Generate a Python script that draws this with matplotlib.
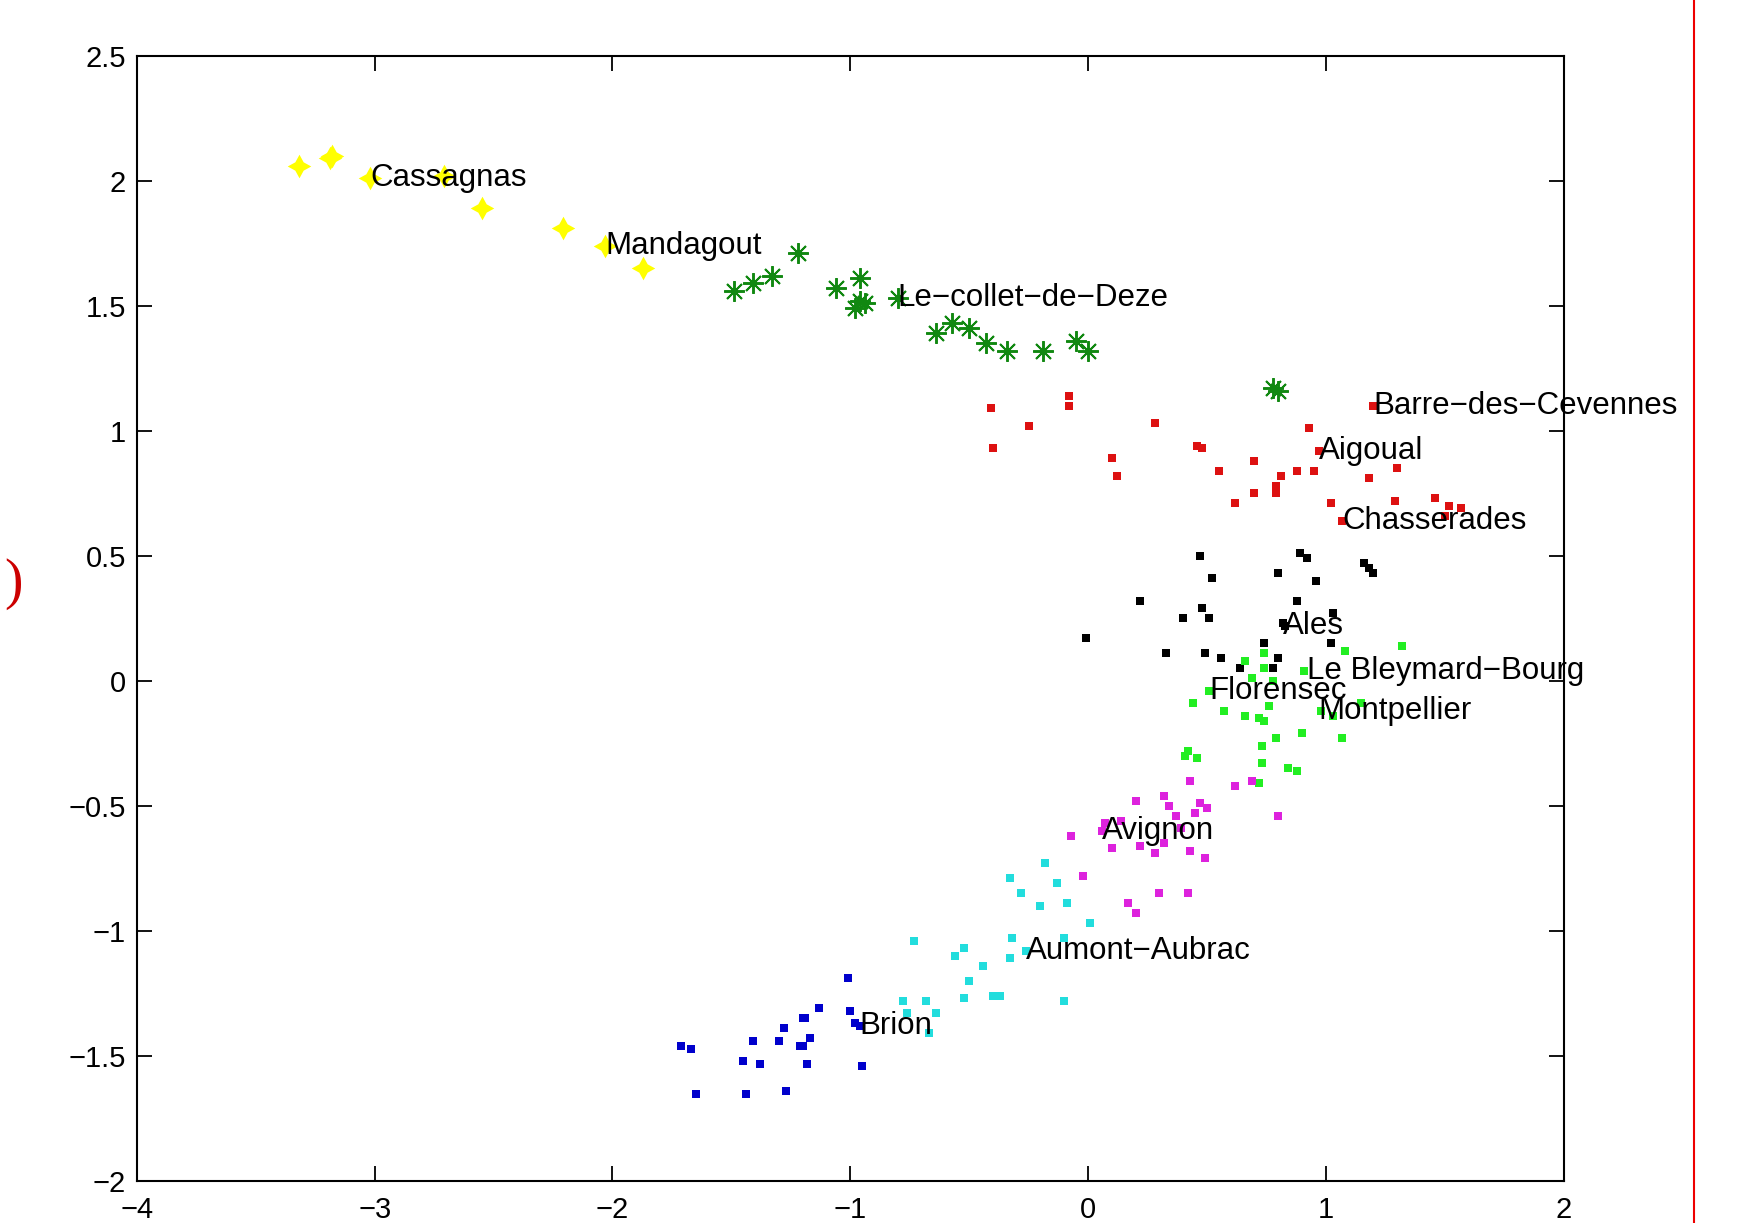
import matplotlib
matplotlib.use("Agg")
import matplotlib.pyplot as plt
from matplotlib.lines import Line2D

plt.rcParams["font.family"] = ["Liberation Sans", "DejaVu Sans"]

# --- point clouds, one per town group ---
yellow_x = [-3.32, -3.19, -3.18, -3.02, -2.71, -2.55, -2.21, -2.03, -1.87]
yellow_y = [2.06, 2.09, 2.10, 2.01, 2.02, 1.89, 1.81, 1.74, 1.65]

dgreen_x = [-1.49, -1.41, -1.33, -1.22, -1.06, -0.96, -0.96, -0.98, -0.94, -0.80,
            -0.64, -0.57, -0.50, -0.43, -0.34, -0.19, -0.05, 0.00, 0.78, 0.80]
dgreen_y = [1.56, 1.59, 1.62, 1.71, 1.57, 1.61, 1.52, 1.49, 1.51, 1.53,
            1.39, 1.43, 1.41, 1.35, 1.32, 1.32, 1.36, 1.32, 1.17, 1.16]

red_x = [-0.41, -0.08, -0.08, -0.25, -0.40, 0.28, 0.10, 0.12, 0.46, 0.48,
         0.55, 0.70, 0.81, 0.79, 0.79, 0.70, 0.62, 0.88, 0.95, 0.93,
         0.97, 1.02, 1.07, 1.20, 1.18, 1.30, 1.29, 1.46, 1.52, 1.50, 1.57]
red_y = [1.09, 1.14, 1.10, 1.02, 0.93, 1.03, 0.89, 0.82, 0.94, 0.93,
         0.84, 0.88, 0.82, 0.78, 0.75, 0.75, 0.71, 0.84, 0.84, 1.01,
         0.92, 0.71, 0.64, 1.10, 0.81, 0.85, 0.72, 0.73, 0.70, 0.66, 0.69]

black_x = [0.47, 0.89, 0.92, 1.16, 1.18, 1.20, 0.52, 0.80, 0.96, 0.22,
           0.48, 0.51, 0.40, 0.88, 1.03, 0.82, 0.83, -0.01, 0.33, 0.49,
           0.56, 0.74, 1.02, 0.64, 0.80, 0.78]
black_y = [0.50, 0.51, 0.49, 0.47, 0.45, 0.43, 0.41, 0.43, 0.40, 0.32,
           0.29, 0.25, 0.25, 0.32, 0.27, 0.23, 0.22, 0.17, 0.11, 0.11,
           0.09, 0.15, 0.15, 0.05, 0.09, 0.05]

green_x = [1.08, 1.32, 0.74, 0.66, 0.74, 0.69, 0.78, 0.91, 0.51, 0.44,
           0.57, 0.66, 0.72, 0.74, 0.76, 1.15, 0.98, 1.03, 0.90, 0.79,
           0.73, 1.07, 0.41, 0.42, 0.46, 0.73, 0.84, 0.88, 0.72]
green_y = [0.12, 0.14, 0.11, 0.08, 0.05, 0.01, 0.00, 0.04, -0.04, -0.09,
           -0.12, -0.14, -0.15, -0.16, -0.10, -0.09, -0.12, -0.14, -0.21, -0.23,
           -0.26, -0.23, -0.30, -0.28, -0.31, -0.33, -0.35, -0.36, -0.41]

magenta_x = [0.43, 0.62, 0.69, 0.20, 0.32, 0.34, 0.47, 0.50, 0.37, 0.45,
             0.14, 0.07, 0.06, -0.07, 0.10, 0.22, 0.28, 0.32, 0.43, 0.49,
             0.39, 0.80, -0.02, 0.30, 0.42, 0.17, 0.20]
magenta_y = [-0.40, -0.42, -0.40, -0.48, -0.46, -0.50, -0.49, -0.51, -0.54, -0.53,
             -0.56, -0.57, -0.60, -0.62, -0.67, -0.66, -0.69, -0.65, -0.68, -0.71,
             -0.59, -0.54, -0.78, -0.85, -0.85, -0.89, -0.93]

cyan_x = [-0.18, -0.33, -0.13, -0.28, -0.20, -0.09, 0.01, -0.32, -0.10, -0.52,
          -0.56, -0.33, -0.44, -0.50, -0.52, -0.37, -0.40, -0.10, -0.26, -0.73,
          -0.78, -0.76, -0.68, -0.64, -0.67]
cyan_y = [-0.73, -0.79, -0.81, -0.85, -0.90, -0.89, -0.97, -1.03, -1.03, -1.07,
          -1.10, -1.11, -1.14, -1.20, -1.27, -1.26, -1.26, -1.28, -1.08, -1.04,
          -1.28, -1.33, -1.28, -1.33, -1.41]

blue_x = [-1.01, -1.13, -1.20, -1.19, -1.28, -1.41, -1.30, -1.21, -1.20, -1.17,
          -1.00, -0.98, -0.96, -1.71, -1.67, -1.45, -1.38, -1.18, -0.95, -1.65,
          -1.44, -1.27]
blue_y = [-1.19, -1.31, -1.35, -1.35, -1.39, -1.44, -1.44, -1.46, -1.46, -1.43,
          -1.32, -1.37, -1.38, -1.46, -1.47, -1.52, -1.53, -1.53, -1.54, -1.65,
          -1.65, -1.64]

# --- town names written next to their points ---
town_names = ["Cassagnas", "Mandagout", "Le\u2212collet\u2212de\u2212Deze",
              "Barre\u2212des\u2212Cevennes", "Aigoual", "Chasserades", "Ales",
              "Le Bleymard\u2212Bourg", "Florensec", "Montpellier", "Avignon",
              "Aumont\u2212Aubrac", "Brion"]
town_x = [-3.02, -2.03, -0.80, 1.20, 0.97, 1.07, 0.82, 0.92, 0.51, 0.97, 0.06, -0.26, -0.96]
town_y = [2.01, 1.74, 1.53, 1.10, 0.92, 0.64, 0.22, 0.04, -0.04, -0.12, -0.60, -1.08, -1.38]

fig = plt.figure(figsize=(17.45, 12.23), dpi=100, facecolor="white")
ax = fig.add_axes([0.0785, 0.0343, 0.8175, 0.9202])

star4 = (4, 1, 0)
asterisk = (8, 2, 0)
dot = dict(marker="s", markersize=5.5, linestyle="none", markeredgewidth=0)

ax.plot(yellow_x, yellow_y, linestyle="none", marker=star4, markersize=17,
        color="#ffff00", markeredgewidth=0)
ax.plot(dgreen_x, dgreen_y, linestyle="none", marker=asterisk, markersize=15,
        color="#118811", markeredgewidth=1.4)
ax.plot(red_x, red_y, color="#dd1111", **dot)
ax.plot(black_x, black_y, color="black", **dot)
ax.plot(green_x, green_y, color="#22ee22", **dot)
ax.plot(magenta_x, magenta_y, color="#dd22dd", **dot)
ax.plot(cyan_x, cyan_y, color="#22dddd", **dot)
ax.plot(blue_x, blue_y, color="#0000cc", **dot)

for name, tx, ty in zip(town_names, town_x, town_y):
    ax.text(tx, ty, name, fontsize=22.5, ha="left", va="center", color="black",
            clip_on=False)

ax.set_xlim(-4, 2)
ax.set_ylim(-2, 2.5)
ax.set_xticks([-4, -3, -2, -1, 0, 1, 2])
ax.set_yticks([-2, -1.5, -1, -0.5, 0, 0.5, 1, 1.5, 2, 2.5])
ax.set_yticklabels(["\u22122", "\u22121.5", "\u22121", "\u22120.5", "0",
                    "0.5", "1", "1.5", "2", "2.5"])
ax.tick_params(direction="in", length=11, width=1.3, top=True, right=True,
               labelsize=21)
ax.tick_params(axis="x", pad=11)
ax.tick_params(axis="y", pad=8)
for sp in ax.spines.values():
    sp.set_linewidth(1.5)

# slide border on the right and stray bracket on the left
fig.add_artist(Line2D([1694 / 1745, 1694 / 1745], [0, 1], color="#ee0000",
                      linewidth=1.5, transform=fig.transFigure))
fig.text(0.013, 1 - 584 / 1223, ")", color="#cc0000", fontsize=40,
         family="Liberation Serif", ha="right", va="center")

fig.savefig("out.png", dpi=100, facecolor="white")
